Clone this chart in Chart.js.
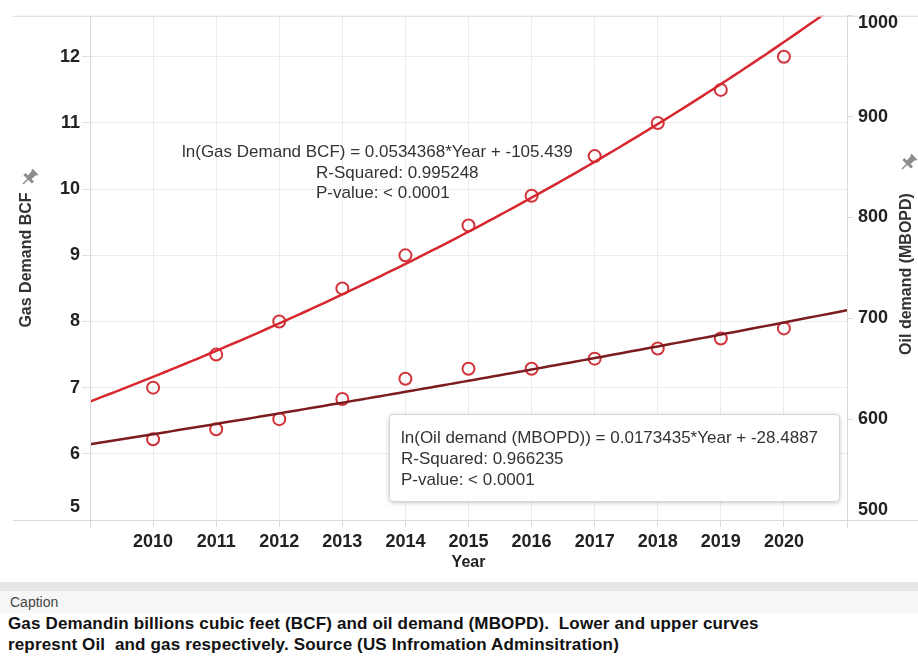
<!DOCTYPE html>
<html>
<head>
<meta charset="utf-8">
<title>Gas and oil demand</title>
<script src="https://cdn.jsdelivr.net/npm/chart.js@4.4.1/dist/chart.umd.min.js"></script>
<style>
  body { margin: 0; background: #fff; font-family: Arial, "Liberation Sans", sans-serif; }
  #wrap { width: 918px; height: 670px; overflow: hidden; }
  canvas { display: block; }
  .band { height: 9px; background: #e6e6e6; }
  .caption-head { height: 22px; line-height: 22px; padding-left: 10px; font-size: 14px; color: #444; background: #f6f6f6; }
  .caption-text { padding: 0 8px; font-size: 17px; letter-spacing: 0.15px; font-weight: bold; line-height: 21px; color: #111; }
</style>
</head>
<body>
<div id="wrap">
  <canvas id="demandChart" width="918" height="582"></canvas>
  <div class="band"></div>
  <div class="caption-head">Caption</div>
  <div class="caption-text">Gas Demandin billions cubic feet (BCF) and oil demand (MBOPD).&nbsp; Lower and upper curves<br>represnt Oil&nbsp; and gas respectively. Source (US Infromation Adminsitration)</div>
</div>
<script>
const years = [2010, 2011, 2012, 2013, 2014, 2015, 2016, 2017, 2018, 2019, 2020];
const gasDemand = [7.0, 7.5, 8.0, 8.5, 9.0, 9.45, 9.9, 10.5, 11.0, 11.5, 12.0];
const oilDemand = [580, 590, 600, 620, 640, 650, 650, 660, 670, 680, 690];
const gasTicks = [5, 6, 7, 8, 9, 10, 11, 12];
const oilTicks = [500, 600, 700, 800, 900, 1000];
const yearRange = [2009, 2021];
const gasRange = [5, 12.62];
const oilRange = [500, 1000];

// log-linear fits: ln(y) = slope * Year + intercept
const gasFit = { slope: 0.0534368, intercept: -105.439, r2: "0.995248" };
const oilFit = { slope: 0.0173435, intercept: -28.4887, r2: "0.966235" };

const FONT = "Arial, 'Liberation Sans', sans-serif";
const RED = "#d6282e";
const DARK_RED = "#7b1c1f";
const MARKER = "#d2333b";

function trendPoints(fit) {
  const pts = [];
  for (let i = 0; i <= 120; i++) {
    const x = yearRange[0] + i * 0.1;
    pts.push({ x: x, y: Math.exp(fit.slope * x + fit.intercept) });
  }
  return pts;
}

function fitLabel(name, fit) {
  return "ln(" + name + ") = " + fit.slope + "*Year + " + fit.intercept;
}

// pane borders that run past the axes
const framePlugin = {
  id: "frame",
  afterDraw(chart) {
    const { ctx, chartArea: a } = chart;
    ctx.save();
    ctx.strokeStyle = "#d9d9d9";
    ctx.lineWidth = 1;
    ctx.beginPath();
    ctx.moveTo(13, a.top + 0.5); ctx.lineTo(918, a.top + 0.5);
    ctx.moveTo(13, a.bottom + 0.5); ctx.lineTo(918, a.bottom + 0.5);
    ctx.moveTo(a.left + 0.5, a.top); ctx.lineTo(a.left + 0.5, a.bottom + 8);
    ctx.moveTo(a.right + 0.5, a.top); ctx.lineTo(a.right + 0.5, a.bottom + 8);
    ctx.stroke();
    ctx.restore();
  },
};

// small push-pin next to each axis title
function drawPin(ctx, x, y) {
  ctx.save();
  ctx.translate(x, y);
  ctx.rotate(Math.PI / 4);
  ctx.fillStyle = "#8c8c8c";
  ctx.strokeStyle = "#8c8c8c";
  ctx.beginPath();
  ctx.moveTo(-3, -9);
  ctx.lineTo(3, -9);
  ctx.lineTo(2.5, -2);
  ctx.lineTo(-2.5, -2);
  ctx.closePath();
  ctx.fill();
  ctx.fillRect(-6, -2.5, 12, 3);
  ctx.fillRect(-4, -10.5, 8, 2);
  ctx.lineWidth = 1.4;
  ctx.beginPath();
  ctx.moveTo(0, 0); ctx.lineTo(0, 7);
  ctx.stroke();
  ctx.restore();
}

function drawVerticalTitle(ctx, text, x, y) {
  ctx.save();
  ctx.translate(x, y);
  ctx.rotate(-Math.PI / 2);
  ctx.font = "bold 16px " + FONT;
  ctx.fillStyle = "#333";
  ctx.textAlign = "center";
  ctx.textBaseline = "middle";
  ctx.fillText(text, 0, 0);
  ctx.restore();
}

const labelPlugin = {
  id: "labels",
  afterDraw(chart) {
    const { ctx } = chart;
    const gas = chart.scales.yGas;
    const oil = chart.scales.yOil;

    drawVerticalTitle(ctx, "Gas Demand BCF", 27, 260);
    drawPin(ctx, 28, 179);
    drawVerticalTitle(ctx, "Oil demand (MBOPD)", 907, 274);
    drawPin(ctx, 907, 164);

    // end labels sit inside the pane
    ctx.save();
    ctx.font = "bold 18px " + FONT;
    ctx.fillStyle = "#222";
    ctx.textBaseline = "middle";
    ctx.textAlign = "right";
    ctx.fillText(String(gasTicks[0]), 80, gas.getPixelForValue(gasTicks[0]) - 13);
    ctx.textAlign = "left";
    ctx.fillText(String(oilTicks[0]), 858, oil.getPixelForValue(oilTicks[0]) - 10);
    ctx.fillText(String(oilTicks[oilTicks.length - 1]), 858, oil.getPixelForValue(oilTicks[oilTicks.length - 1]) + 7);
    ctx.restore();

    // gas fit annotation
    ctx.save();
    ctx.font = "17px " + FONT;
    ctx.fillStyle = "#333";
    ctx.textBaseline = "middle";
    ctx.fillText(fitLabel("Gas Demand BCF", gasFit), 182, 152);
    ctx.fillText("R-Squared: " + gasFit.r2, 316, 173);
    ctx.fillText("P-value: < 0.0001", 316, 193);
    ctx.restore();

    // oil fit annotation box
    ctx.save();
    ctx.shadowColor = "rgba(0,0,0,0.25)";
    ctx.shadowBlur = 5;
    ctx.shadowOffsetY = 1;
    ctx.fillStyle = "#fff";
    ctx.beginPath();
    ctx.roundRect(389.5, 414.5, 450, 87, 4);
    ctx.fill();
    ctx.shadowColor = "transparent";
    ctx.strokeStyle = "#d4d4d4";
    ctx.stroke();
    ctx.font = "17px " + FONT;
    ctx.fillStyle = "#333";
    ctx.textBaseline = "middle";
    ctx.fillText(fitLabel("Oil demand (MBOPD)", oilFit), 401, 438);
    ctx.fillText("R-Squared: " + oilFit.r2, 401, 459);
    ctx.fillText("P-value: < 0.0001", 401, 480);
    ctx.restore();
  },
};

const tickFont = { family: FONT, size: 18, weight: "bold" };

new Chart(document.getElementById("demandChart"), {
  type: "scatter",
  data: {
    datasets: [
      {
        label: "Gas trend",
        data: trendPoints(gasFit),
        yAxisID: "yGas",
        showLine: true,
        borderColor: RED,
        borderWidth: 2.5,
        pointRadius: 0,
        order: 0,
      },
      {
        label: "Oil trend",
        data: trendPoints(oilFit),
        yAxisID: "yOil",
        showLine: true,
        borderColor: DARK_RED,
        borderWidth: 2.5,
        pointRadius: 0,
        order: 0,
      },
      {
        label: "Gas Demand BCF",
        data: years.map((x, i) => ({ x: x, y: gasDemand[i] })),
        yAxisID: "yGas",
        pointRadius: 6,
        pointBorderWidth: 2,
        borderColor: MARKER,
        backgroundColor: "rgba(0,0,0,0)",
        order: 1,
      },
      {
        label: "Oil demand (MBOPD)",
        data: years.map((x, i) => ({ x: x, y: oilDemand[i] })),
        yAxisID: "yOil",
        pointRadius: 6,
        pointBorderWidth: 2,
        borderColor: MARKER,
        backgroundColor: "rgba(0,0,0,0)",
        order: 1,
      },
    ],
  },
  options: {
    responsive: false,
    animation: false,
    devicePixelRatio: 1,
    layout: { padding: { top: 13, left: 0, right: 0, bottom: 0 } },
    plugins: {
      legend: { display: false },
      tooltip: { enabled: false },
    },
    scales: {
      x: {
        type: "linear",
        position: "bottom",
        min: yearRange[0],
        max: yearRange[1],
        afterBuildTicks: (s) => { s.ticks = years.map((v) => ({ value: v })); },
        afterFit: (s) => { s.height = 62; },
        grid: { color: "#ececec", tickColor: "#d9d9d9", tickLength: 7 },
        border: { display: false },
        ticks: {
          font: tickFont,
          color: "#222",
          padding: 4,
          autoSkip: false,
          maxRotation: 0,
          callback: (v) => String(v),
        },
        title: {
          display: true,
          text: "Year",
          font: { family: FONT, size: 16, weight: "bold" },
          color: "#222",
          padding: { top: 0, bottom: 10 },
        },
      },
      yGas: {
        type: "linear",
        position: "left",
        min: gasRange[0],
        max: gasRange[1],
        afterBuildTicks: (s) => { s.ticks = gasTicks.map((v) => ({ value: v })); },
        afterFit: (s) => { s.width = 90; },
        grid: { color: "#ececec", tickColor: "#e2e2e2", tickLength: 8 },
        border: { display: false },
        ticks: {
          font: tickFont,
          color: "#222",
          padding: 2,
          callback: (v) => (v === gasTicks[0] ? "" : String(v)),
        },
      },
      yOil: {
        type: "linear",
        position: "right",
        min: oilRange[0],
        max: oilRange[1],
        afterBuildTicks: (s) => { s.ticks = oilTicks.map((v) => ({ value: v })); },
        afterFit: (s) => { s.width = 71; },
        grid: { drawOnChartArea: false, tickColor: "#d9d9d9", tickLength: 6 },
        border: { display: false },
        ticks: {
          font: tickFont,
          color: "#222",
          padding: 5,
          callback: (v) => (v === oilTicks[0] || v === oilTicks[oilTicks.length - 1] ? "" : String(v)),
        },
      },
    },
  },
  plugins: [framePlugin, labelPlugin],
});
</script>
</body>
</html>
